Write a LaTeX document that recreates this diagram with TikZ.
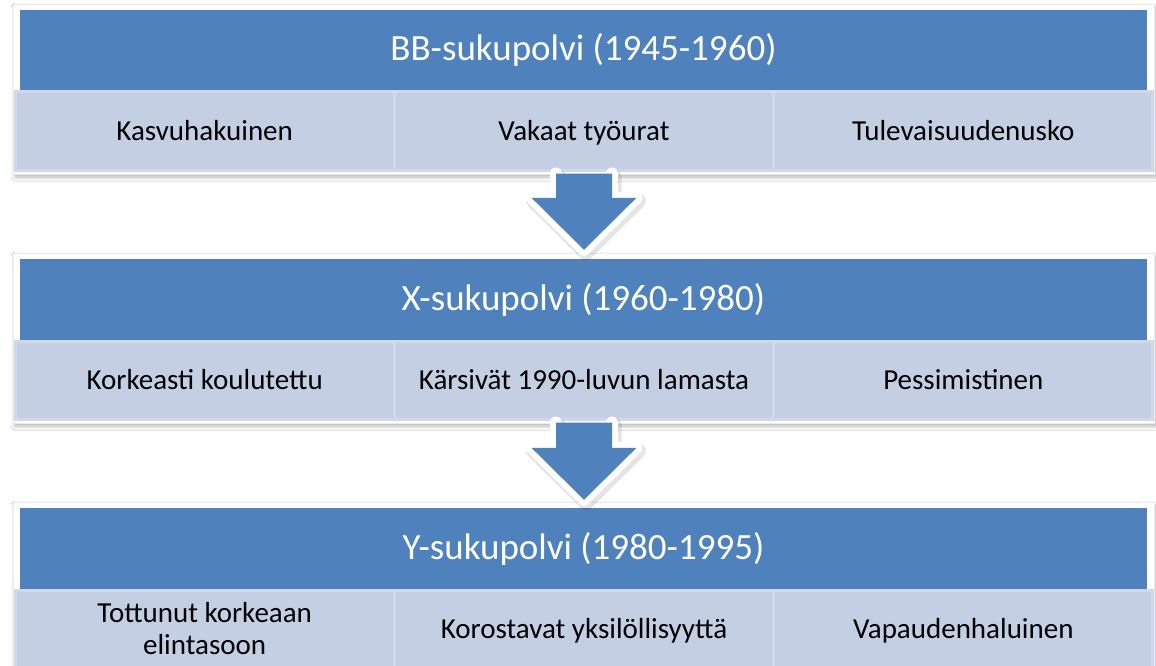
\documentclass[tikz,border=0pt]{standalone}
\usepackage{fontspec}
\setmainfont{Carlito}
\usetikzlibrary{calc,shadows.blur}
\definecolor{hdr}{HTML}{4F81BD}
\definecolor{cellc}{HTML}{C4CFE3}
\definecolor{cellb}{HTML}{D0D9EA}
\tikzset{
  frame/.style={draw=black!8, line width=0.8pt, fill=white, inner sep=0pt,
    minimum width=1141pt, minimum height=170pt,
    blur shadow={shadow xshift=2pt, shadow yshift=-3pt, shadow blur radius=4pt, shadow opacity=30}},
  header/.style={fill=hdr, draw=none, inner sep=0pt, minimum width=1127pt, minimum height=82pt,
    text=white, font=\fontsize{37}{44}\selectfont, text height=28pt, text depth=8pt},
  cell/.style={fill=cellc, draw=cellb, line width=3pt, inner sep=0pt,
    minimum width=379pt, minimum height=78pt, align=center,
    font=\fontsize{29}{32}\selectfont},
  oneline/.style={text height=22pt, text depth=4pt},
  arrowline/.style={draw=white, line width=12pt, line join=round, line cap=round},
  arrowshadow/.style={draw=black, opacity=0.10, line width=15pt, line join=round, line cap=round},
  arrowfill/.style={fill=hdr, draw=none},
}
\newcommand\blockarrow[2]{%
  \path[arrowshadow] let \p1=(#1), \p2=(#2) in
    ($(\x2-28pt,\y1)+(2,3)$) -- ($(\x2-28pt,\y2+52pt)+(2,3)$) -- ($(\x2-52.5pt,\y2+52pt)+(2,3)$)
    -- ($(\x2,\y2)+(2,3)$) -- ($(\x2+52.5pt,\y2+52pt)+(2,3)$) -- ($(\x2+28pt,\y2+52pt)+(2,3)$) -- ($(\x2+28pt,\y1)+(2,3)$);
  \path[arrowline] let \p1=(#1), \p2=(#2) in
    (\x2-28pt,\y1) -- (\x2-28pt,\y2+52pt) -- (\x2-52.5pt,\y2+52pt)
    -- (\x2,\y2) -- (\x2+52.5pt,\y2+52pt) -- (\x2+28pt,\y2+52pt) -- (\x2+28pt,\y1);
  \path[arrowfill] let \p1=(#1), \p2=(#2) in
    (\x2-28pt,\y1) -- (\x2-28pt,\y2+52pt) -- (\x2-52.5pt,\y2+52pt)
    -- (\x2,\y2) -- (\x2+52.5pt,\y2+52pt) -- (\x2+28pt,\y2+52pt) -- (\x2+28pt,\y1) -- cycle;
}
\begin{document}
\begin{tikzpicture}[x=1pt,y=-1pt]
\useasboundingbox (0,0) rectangle (1156,666);
\fill[white] (0,0) rectangle (1156,666);

% block 1
\node[frame] (f1) at (583.5,89) {};
\node[header] (h1) at (583.5,51) {BB-sukupolvi (1945-1960)};
\node[cell,oneline] (c11) at (204.7,131) {Kasvuhakuinen};
\node[cell,oneline] (c12) at (584,131) {Vakaat työurat};
\node[cell,oneline] (c13) at (963.3,131) {Tulevaisuudenusko};

% block 2
\node[frame] (f2) at (583.5,338) {};
\node[header] (h2) at (583.5,300) {X-sukupolvi (1960-1980)};
\node[cell,oneline] (c21) at (204.7,380) {Korkeasti koulutettu};
\node[cell,oneline] (c22) at (584,380) {Kärsivät 1990-luvun lamasta};
\node[cell,oneline] (c23) at (963.3,380) {Pessimistinen};

% block 3
\node[frame] (f3) at (583.5,587) {};
\node[header] (h3) at (583.5,549) {Y-sukupolvi (1980-1995)};
\node[cell] (c31) at (204.7,629) {Tottunut korkeaan\\elintasoon};
\node[cell,oneline] (c32) at (584,629) {Korostavat yksilöllisyyttä};
\node[cell,oneline] (c33) at (963.3,629) {Vapaudenhaluinen};

% arrows
\coordinate (a1s) at ($(c12.south)+(0,2)$);
\coordinate (a1t) at ($(h2.north)+(0.5,-9)$);
\blockarrow{a1s}{a1t}
\coordinate (a2s) at ($(c22.south)+(0,2)$);
\coordinate (a2t) at ($(h3.north)+(0.5,-8)$);
\blockarrow{a2s}{a2t}
\end{tikzpicture}
\end{document}
